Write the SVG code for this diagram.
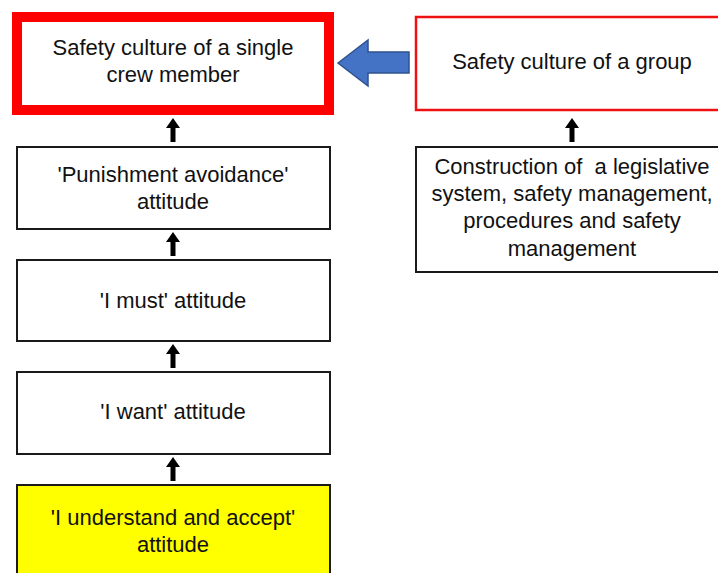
<svg xmlns="http://www.w3.org/2000/svg" width="718" height="573" viewBox="0 0 718 573">
  <style>
    .box { fill: #ffffff; stroke: #1a1a1a; stroke-width: 2; }
    .txt { font-family: "Liberation Sans", Arial, sans-serif; font-size: 22px; fill: #111111; text-anchor: middle; white-space: pre; }
    .up { fill: #000000; }
  </style>
  <defs>
    <!-- small solid up-arrow, tip at (0,0), 24px tall -->
    <path id="uparrow" class="up" d="M0,0 L7,10 L2.5,10 L2.5,24 L-2.5,24 L-2.5,10 L-7,10 Z"/>
  </defs>
  <rect width="718" height="573" fill="#ffffff"/>

  <g id="single-crew-member">
    <rect x="17" y="17" width="312" height="93" fill="#ffffff" stroke="#ff0000" stroke-width="10"/>
    <text class="txt" x="173" y="55">Safety culture of a single</text>
    <text class="txt" x="173" y="82">crew member</text>
  </g>

  <g id="group-culture">
    <rect x="416" y="17" width="310" height="93" fill="#ffffff" stroke="#ee1111" stroke-width="2.5"/>
    <text class="txt" x="572" y="69">Safety culture of a group</text>
  </g>

  <g id="construction">
    <rect class="box" x="416" y="147" width="310" height="125"/>
    <text class="txt" x="572" y="174" xml:space="preserve">Construction of  a legislative</text>
    <text class="txt" x="572" y="201">system, safety management,</text>
    <text class="txt" x="572" y="228">procedures and safety</text>
    <text class="txt" x="572" y="256">management</text>
  </g>

  <g id="punishment-avoidance">
    <rect class="box" x="17" y="147" width="313" height="82"/>
    <text class="txt" x="173" y="182">'Punishment avoidance'</text>
    <text class="txt" x="173" y="209">attitude</text>
  </g>

  <g id="i-must">
    <rect class="box" x="17" y="260" width="313" height="81"/>
    <text class="txt" x="173" y="308">'I must' attitude</text>
  </g>

  <g id="i-want">
    <rect class="box" x="17" y="372" width="313" height="82"/>
    <text class="txt" x="173" y="419">'I want' attitude</text>
  </g>

  <g id="understand-accept">
    <rect x="17" y="485" width="313" height="100" fill="#ffff00" stroke="#1a1a1a" stroke-width="2"/>
    <text class="txt" x="173" y="525">'I understand and accept'</text>
    <text class="txt" x="173" y="552">attitude</text>
  </g>

  <g id="connectors">
    <use href="#uparrow" x="173" y="118"/>
    <use href="#uparrow" x="173" y="232"/>
    <use href="#uparrow" x="173" y="344"/>
    <use href="#uparrow" x="173" y="457"/>
    <use href="#uparrow" x="572" y="118"/>
    <!-- block arrow from group culture to single crew member -->
    <path d="M338,63 L368,40 L368,52 L409,52 L409,73 L368,73 L368,86 Z" fill="#4472c4" stroke="#2f528f" stroke-width="1.5"/>
  </g>
</svg>
